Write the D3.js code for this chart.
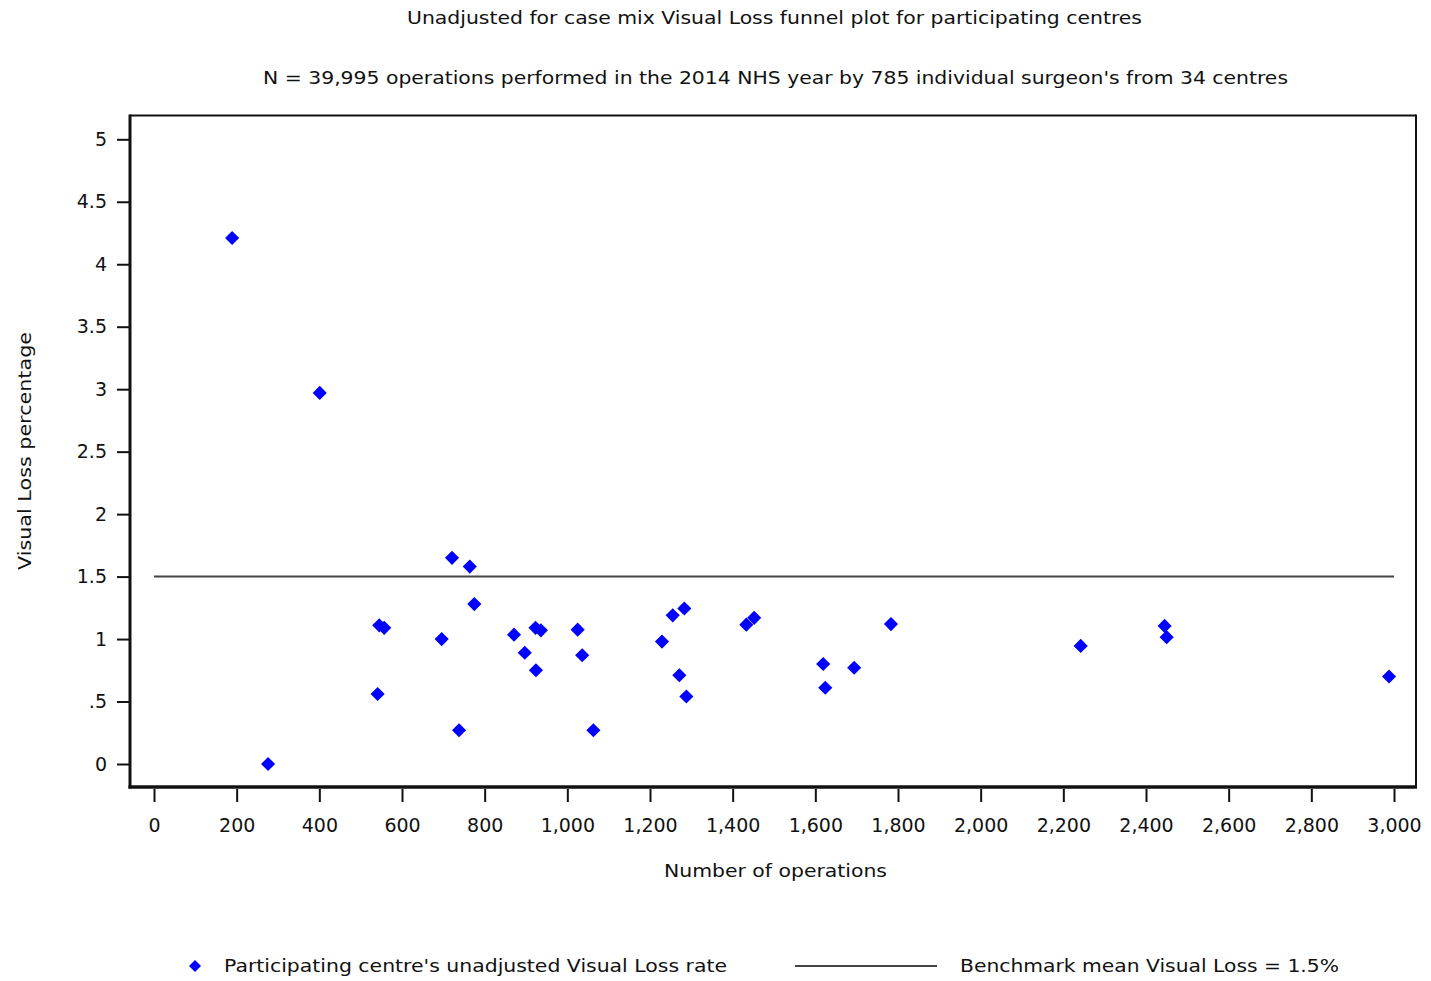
<!DOCTYPE html>
<html>
<head>
<meta charset="utf-8">
<script src="https://cdn.jsdelivr.net/npm/d3@7"></script>
<style>
  body { margin: 0; background: #fff; }
  svg text { font-family: "DejaVu Sans", Verdana, sans-serif; fill: #111; }
</style>
</head>
<body>
<div id="chart"></div>
<script>
// number of operations per centre
const operations = [189, 401, 276, 541, 545, 557, 696, 721, 738, 764, 775, 871, 897, 923, 924, 936,
    1025, 1036, 1063, 1229, 1255, 1283, 1271, 1288, 1433, 1452, 1619, 1624, 1694, 1783, 2242, 2445, 2450, 2988];
// unadjusted visual loss rate (%)
const visualLoss = [4.21, 2.97, 0.0, 0.56, 1.11, 1.09, 1.0, 1.65, 0.27, 1.58, 1.28, 1.035, 0.89, 1.09, 0.75, 1.07,
    1.075, 0.87, 0.27, 0.98, 1.19, 1.245, 0.71, 0.54, 1.115, 1.17, 0.80, 0.61, 0.77, 1.12, 0.945, 1.105, 1.015, 0.70];
const benchmark = 1.5;
const xTicks = [0, 200, 400, 600, 800, 1000, 1200, 1400, 1600, 1800, 2000, 2200, 2400, 2600, 2800, 3000];
const yTicks = [0, 0.5, 1, 1.5, 2, 2.5, 3, 3.5, 4, 4.5, 5];

const titleText = "Unadjusted for case mix Visual Loss funnel plot for participating centres";
const subtitleText = "N = 39,995 operations performed in the 2014 NHS year by 785 individual surgeon's from 34 centres";
const xLabel = "Number of operations";
const yLabel = "Visual Loss percentage";
const legendPoints = "Participating centre's unadjusted Visual Loss rate";
const legendLine = "Benchmark mean Visual Loss = 1.5%";

const W = 1431, H = 981;
const frame = {left: 130, right: 1416, top: 115.5, bottom: 787};
const fontSize = "18px";

const svg = d3.select("#chart").append("svg")
    .attr("width", W)
    .attr("height", H);

const x = d3.scaleLinear().domain([0, 3000]).range([154, 1394]);
const y = d3.scaleLinear().domain([0, 5]).range([764, 139.3]);

// stretch text to the width it takes in the picture
function fitText(sel, width) {
    sel.attr("textLength", width).attr("lengthAdjust", "spacingAndGlyphs");
}

// titles
svg.append("text").attr("x", 774.5).attr("y", 23.5).attr("text-anchor", "middle")
    .style("font-size", fontSize).text(titleText).call(fitText, 735);
svg.append("text").attr("x", 775.5).attr("y", 83.5).attr("text-anchor", "middle")
    .style("font-size", fontSize).text(subtitleText).call(fitText, 1025);

// frame: thicker left/bottom axes lines
svg.append("line").attr("x1", frame.left).attr("x2", frame.right)
    .attr("y1", frame.top).attr("y2", frame.top)
    .attr("stroke", "#111").attr("stroke-width", 2);
svg.append("line").attr("x1", frame.right).attr("x2", frame.right)
    .attr("y1", frame.top - 1).attr("y2", frame.bottom)
    .attr("stroke", "#111").attr("stroke-width", 2);
svg.append("line").attr("x1", frame.left).attr("x2", frame.left)
    .attr("y1", frame.top - 1).attr("y2", frame.bottom + 1.5)
    .attr("stroke", "#111").attr("stroke-width", 3);
svg.append("line").attr("x1", frame.left - 1.5).attr("x2", frame.right + 1)
    .attr("y1", frame.bottom).attr("y2", frame.bottom)
    .attr("stroke", "#111").attr("stroke-width", 3.5);

// axes
const yAxis = d3.axisLeft(y)
    .tickValues(yTicks)
    .tickSize(12)
    .tickPadding(10)
    .tickFormat(d => String(d).replace(/^0\./, "."));
const yAxisGroup = svg.append("g")
    .attr("transform", `translate(${frame.left - 1}, 0)`)
    .call(yAxis);

const xAxis = d3.axisBottom(x)
    .tickValues(xTicks)
    .tickSize(13)
    .tickPadding(17)
    .tickFormat(d3.format(","));
const xAxisGroup = svg.append("g")
    .attr("transform", `translate(0, ${frame.bottom + 2})`)
    .call(xAxis);

[yAxisGroup, xAxisGroup].forEach(g => {
    g.select(".domain").remove();
    g.selectAll(".tick line").attr("stroke", "#111").attr("stroke-width", 2);
    g.selectAll(".tick text")
        .style("font-size", "19px")
        .style("font-family", "\"DejaVu Sans\", Verdana, sans-serif")
        .attr("fill", "#111");
});

// axis titles
svg.append("text").attr("x", 775.5).attr("y", 877).attr("text-anchor", "middle")
    .style("font-size", fontSize).text(xLabel).call(fitText, 223);
svg.append("text").attr("text-anchor", "middle")
    .attr("transform", "translate(31, 451) rotate(-90)")
    .style("font-size", fontSize).text(yLabel).call(fitText, 238);

// benchmark line
svg.append("line")
    .attr("x1", x(0)).attr("x2", x(3000))
    .attr("y1", y(benchmark)).attr("y2", y(benchmark))
    .attr("stroke", "#444").attr("stroke-width", 2);

// centres
const diamond = d3.symbol().type(d3.symbolSquare).size(100);
const data = operations.map((d, i) => ({ops: d, rate: visualLoss[i]}));
svg.append("g").selectAll("path")
    .data(data)
    .enter()
    .append("path")
    .attr("d", diamond)
    .attr("transform", d => `translate(${x(d.ops)}, ${y(d.rate)}) rotate(45)`)
    .attr("fill", "#0000ff");

// legend
svg.append("path").attr("d", diamond)
    .attr("transform", "translate(195, 966) rotate(45) scale(0.85)")
    .attr("fill", "#0000ff");
svg.append("text").attr("x", 224).attr("y", 972)
    .style("font-size", fontSize).text(legendPoints).call(fitText, 503);
svg.append("line").attr("x1", 795).attr("x2", 937).attr("y1", 966).attr("y2", 966)
    .attr("stroke", "#444").attr("stroke-width", 2);
svg.append("text").attr("x", 960).attr("y", 972)
    .style("font-size", fontSize).text(legendLine).call(fitText, 379);
</script>
</body>
</html>
